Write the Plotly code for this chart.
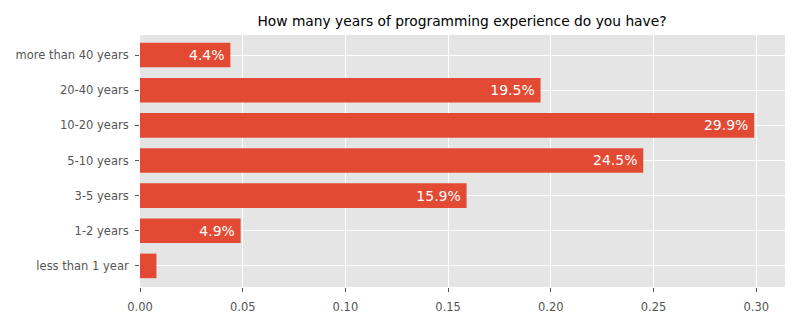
import plotly.graph_objects as go

# Survey answers, bottom to top
categories = ["less than 1 year", "1-2 years", "3-5 years", "5-10 years",
              "10-20 years", "20-40 years", "more than 40 years"]
shares = [0.008, 0.049, 0.159, 0.245, 0.299, 0.195, 0.044]
bar_labels = ["", "4.9%", "15.9%", "24.5%", "29.9%", "19.5%", "4.4%"]

FONT = "DejaVu Sans"
TICK_GREY = "#555555"

fig = go.Figure(
    go.Bar(
        x=shares,
        y=categories,
        orientation="h",
        width=0.7,
        marker=dict(color="#E24A33", line=dict(width=0)),
        text=bar_labels,
        # a thin trailing space keeps the label off the bar's end
        texttemplate="%{text}\u2009",
        textposition="inside",
        insidetextanchor="end",
        textfont=dict(family=FONT, size=14, color="white"),
        cliponaxis=False,
        hoverinfo="x+y",
    )
)

fig.update_layout(
    width=800,
    height=325,
    margin=dict(l=140, r=15, t=35, b=38),
    paper_bgcolor="white",
    plot_bgcolor="#E5E5E5",
    font=dict(family=FONT, size=11.5, color=TICK_GREY),
    showlegend=False,
    uniformtext=dict(minsize=14, mode="show"),
    title=dict(
        text="How many years of programming experience do you have?",
        font=dict(family=FONT, size=13.8, color="black"),
        x=0.5775, xref="container", xanchor="center",
        y=1 - 21 / 325, yref="container", yanchor="middle",
    ),
)

fig.update_xaxes(
    range=[0, 0.314],
    tickvals=[0, 0.05, 0.10, 0.15, 0.20, 0.25, 0.30],
    ticktext=["0.00", "0.05", "0.10", "0.15", "0.20", "0.25", "0.30"],
    showgrid=True, gridcolor="white", gridwidth=1,
    zeroline=False, showline=False,
    ticks="outside", ticklen=4, tickcolor=TICK_GREY, tickwidth=1,
    ticklabelstandoff=5,
    tickfont=dict(family=FONT, size=11.5, color=TICK_GREY),
)

fig.update_yaxes(
    categoryorder="array", categoryarray=categories,
    range=[-0.6, 6.57],
    showgrid=True, gridcolor="white", gridwidth=1,
    zeroline=False, showline=False,
    ticks="outside", ticklen=4, tickcolor=TICK_GREY, tickwidth=1,
    ticklabelstandoff=4,
    tickfont=dict(family=FONT, size=11.5, color=TICK_GREY),
)

fig.write_html("out.html")
